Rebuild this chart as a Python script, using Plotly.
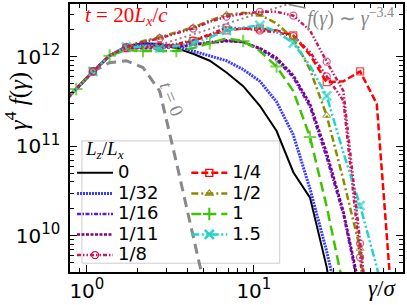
import plotly.graph_objects as go

# ---------------- data ----------------
gamma = [0.685, 0.863, 1.086, 1.368, 1.722, 2.168, 2.729, 3.436, 4.325, 5.445, 6.855,
         8.63, 10.86, 13.68, 17.22, 21.68, 27.29, 34.36, 43.25, 54.45, 68.55]

f_t0 = [2.77e11, 4.36e11, 6.86e11, 8.60e11, 9.04e11, 7.58e11, 4.14e11, 6.60e10, 1.0e10, 1.5e9]
f_0 = [2.77e11, 4.36e11, 6.86e11, 1.03e12, 1.32e12, 1.42e12, 1.39e12, 1.25e12, 1.08e12, 9.04e11,
       6.69e11, 4.70e11, 2.84e11, 1.48e11, 5.13e10, 2.67e10, 4.47e9, 3.0e8]
f_1_32 = [2.77e11, 4.36e11, 6.86e11, 1.03e12, 1.29e12, 1.39e12, 1.35e12, 1.32e12, 1.16e12, 1.03e12,
          9.04e11, 7.21e11, 5.33e11, 3.14e11, 1.34e11, 3.35e10, 6.69e9, 1.04e9]
f_1_16 = [2.77e11, 4.36e11, 6.86e11, 1.03e12, 1.25e12, 1.29e12, 1.29e12, 1.32e12, 1.39e12, 1.46e12,
          1.53e12, 1.46e12, 1.22e12, 9.27e11, 5.89e11, 2.77e11, 7.48e10, 1.74e10, 2.21e9]
f_1_11 = [2.77e11, 4.36e11, 6.86e11, 1.03e12, 1.25e12, 1.25e12, 1.25e12, 1.29e12, 1.35e12, 1.42e12,
          1.50e12, 1.46e12, 1.25e12, 9.75e11, 6.20e11, 2.99e11, 8.49e10, 1.88e10, 2.5e9]
f_1_8 = [2.77e11, 4.36e11, 6.86e11, 1.03e12, 1.25e12, 1.29e12, 1.32e12, 1.39e12, 1.53e12, 1.78e12,
         2.13e12, 2.07e12, 1.97e12, 1.88e12, 1.70e12, 1.13e12, 6.05e11, 3.22e11, 5.75e9, 1.07e8]
f_1_8b = [2.77e11, 4.36e11, 6.86e11, 1.03e12, 1.29e12, 1.46e12, 1.61e12, 1.83e12, 2.07e12, 2.47e12,
          2.81e12, 3.03e12, 3.18e12, 3.18e12, 2.88e12, 1.97e12, 8.82e11, 4.14e11, 8.18e9, 1.8e8]
f_1_4 = [2.77e11, 4.36e11, 6.86e11, 1.03e12, 1.25e12, 1.29e12, 1.29e12, 1.35e12, 1.50e12, 1.74e12,
         1.97e12, 2.07e12, 2.07e12, 1.97e12, 1.74e12, 1.05e12, 5.20e11, 5.33e11, 6.86e11, 2.99e11, 1.04e9]
f_1_2 = [2.77e11, 4.36e11, 6.86e11, 1.03e12, 1.29e12, 1.50e12, 1.65e12, 1.88e12, 2.13e12, 2.54e12,
         2.95e12, 3.10e12, 2.95e12, 2.35e12, 1.61e12, 7.21e11, 2.21e11, 4.2e10, 7.21e9, 1.8e8]
f_1 = [2.77e11, 4.36e11, 6.86e11, 1.03e12, 1.19e12, 1.16e12, 1.16e12, 1.16e12, 1.25e12, 1.42e12,
       1.61e12, 1.50e12, 1.16e12, 7.78e11, 4.14e11, 1.27e11, 2.13e10, 2.7e9]
f_1_5 = [2.77e11, 4.36e11, 6.86e11, 1.03e12, 1.29e12, 1.29e12, 1.25e12, 1.32e12, 1.42e12, 1.65e12,
         1.97e12, 2.13e12, 2.24e12, 1.92e12, 1.42e12, 7.97e11, 3.65e11, 8.49e10, 2.18e10, 4.47e9, 8.1e8]

# reference power law f ~ gamma^-3.4 (endpoints)
ref_x = [2.95, 17.3]
ref_y = [1.42e12, 4.07e12]

SUP = "<sup><span style='font-size:15px'>%s</span></sup>"
x_ticks = [1, 10]
x_ticktext = ["10" + SUP % "0", "10" + SUP % "1"]
y_ticks = [1e10, 1e11, 1e12]
y_ticktext = ["10" + SUP % "10", "10" + SUP % "11", "10" + SUP % "12"]
x_minor = [0.8, 0.9, 2, 3, 4, 5, 6, 7, 8, 9, 20, 30, 40, 50, 60, 70]
y_minor = [5e9, 6e9, 7e9, 8e9, 9e9, 2e10, 3e10, 4e10, 5e10, 6e10, 7e10, 8e10, 9e10,
           2e11, 3e11, 4e11, 5e11, 6e11, 7e11, 8e11, 9e11, 2e12, 3e12]

# ---------------- styles ----------------
series = [
    # label, data, color, width, dash, symbol, msize, mlw, parity, legend
    ("0", f_0, "black", 2, "solid", None, 0, 0, 0, "legend"),
    ("1/32", f_1_32, "#3b3bff", 3, "2px,1px", None, 0, 0, 0, "legend"),
    ("1/16", f_1_16, "#5a1fd6", 2.5, "4px,1.5px,1.5px,1.5px", None, 0, 0, 0, "legend"),
    ("1/11", f_1_11, "#800080", 2.5, "3px,1.5px", None, 0, 0, 0, "legend"),
    ("1/8", f_1_8, "#c8175d", 2.5, "4px,2px,1.5px,2px,1.5px,2px", "circle-open", 7, 1.3, 0, "legend"),
    ("1/4", f_1_4, "#ff0000", 2.5, "7px,3px", "square-open", 7, 1.3, 0, "legend2"),
    ("1/2", f_1_2, "#8a8a00", 2.5, "7px,3px,2px,3px", "triangle-up-open", 7, 1.1, 0, "legend2"),
    ("1", f_1, "#3ec300", 2.5, "10px,5px", "cross-thin-open", 9, 2, 1, "legend2"),
    ("1.5", f_1_5, "#22d3cc", 2.5, "8px,2.5px,2px,2.5px,2px,2.5px", "x-thin-open", 9, 2.5, 0, "legend2"),
]

fig = go.Figure()

# t = 0 curve
fig.add_trace(go.Scatter(x=gamma[:len(f_t0)], y=f_t0, mode="lines",
                         line=dict(color="#888888", width=3, dash="10px,6px"),
                         showlegend=False))
# power-law guide
fig.add_trace(go.Scatter(x=ref_x, y=ref_y, mode="lines",
                         line=dict(color="#888888", width=2, dash="2px,3px"),
                         showlegend=False))


def add_series(label, data, color, width, dash, symbol, msize, mlw, parity, legend, show_leg=True):
    xs = gamma[:len(data)]
    if symbol:
        sizes = [msize if (i % 2 == parity) else 0 for i in range(len(data))]
        fig.add_trace(go.Scatter(x=xs, y=data, mode="lines+markers",
                                 line=dict(color=color, width=width, dash=dash),
                                 marker=dict(symbol=symbol, size=sizes, color=color,
                                             line=dict(color=color, width=mlw)),
                                 showlegend=False))
    else:
        fig.add_trace(go.Scatter(x=xs, y=data, mode="lines",
                                 line=dict(color=color, width=width, dash=dash),
                                 showlegend=False))
    if show_leg:
        name = '<span style="font-size:18px">%s</span>' % label
        if symbol:
            fig.add_trace(go.Scatter(x=[None], y=[None], mode="lines+markers", name=name,
                                     line=dict(color=color, width=width, dash=dash),
                                     marker=dict(symbol=symbol, size=msize, color=color,
                                                 line=dict(color=color, width=mlw)),
                                     legend=legend))
        else:
            fig.add_trace(go.Scatter(x=[None], y=[None], mode="lines", name=name,
                                     line=dict(color=color, width=width, dash=dash),
                                     legend=legend))


for s in series:
    add_series(*s)
# second crimson run (unlabelled)
add_series("1/8", f_1_8b, "#c8175d", 2.5, "4px,2px,1.5px,2px,1.5px,2px", "circle-open", 7, 1.3, 0,
           "legend", show_leg=False)

L, R, T, B = 70, 2, 3, 28
W, H = 407, 305
pw, ph = W - L - R, H - T - B


def px2paper(px, py):
    return (px - L) / pw, (H - B - py) / ph


axis_common = dict(showline=True, linecolor="black", linewidth=1.5, mirror="allticks",
                   ticks="inside", ticklen=7, tickwidth=1.2, tickcolor="black",
                   showgrid=False, zeroline=False,
                   tickfont=dict(family="DejaVu Sans", size=20, color="black"))

fig.update_xaxes(type="log", range=[-0.1012, 1.893], tickvals=x_ticks, ticktext=x_ticktext,
                 minor=dict(tickvals=x_minor, ticks="inside", ticklen=4, tickwidth=1, tickcolor="black"),
                 **axis_common)
fig.update_yaxes(type="log", range=[9.5956, 12.590], tickvals=y_ticks, ticktext=y_ticktext,
                 ticklabelstandoff=4,
                 minor=dict(tickvals=y_minor, ticks="inside", ticklen=4, tickwidth=1, tickcolor="black"),
                 **axis_common)

lx1, ly1 = px2paper(72, 160)
lx2, ly2 = px2paper(187, 160)
leg_common = dict(bgcolor="rgba(0,0,0,0)", borderwidth=0, font=dict(family="DejaVu Sans", size=13.5, color="black"),
                  itemwidth=36, tracegroupgap=0, yanchor="top", xanchor="left", traceorder="normal")
fx0, fy0 = px2paper(82, 268)
fx1, fy1 = px2paper(281, 143)
fig.update_layout(
    width=W, height=H, margin=dict(l=L, r=R, t=T, b=B),
    plot_bgcolor="white", paper_bgcolor="white",
    legend=dict(x=lx1, y=ly1, **leg_common),
    legend2=dict(x=lx2, y=ly2, **leg_common),
    shapes=[dict(type="rect", xref="paper", yref="paper", x0=fx0, x1=fx1, y0=fy0, y1=fy1,
                 line=dict(color="#cccccc", width=1), fillcolor="rgba(255,255,255,0.6)", layer="below")],
)

serif = "Liberation Serif"
ann = []


def pann(px, py, text, size, color, angle=0):
    ax_, ay_ = px2paper(px, py)
    ann.append(dict(xref="paper", yref="paper", x=ax_, y=ay_, xanchor="center", yanchor="middle",
                    text=text, showarrow=False, textangle=angle,
                    font=dict(family=serif, size=size, color=color)))


pann(105, 152, "<i>L<sub>z</sub></i>/<i>L<sub>x</sub></i>", 19, "black")
pann(127, 15, "<i>t</i> = 20<i>L<sub>x</sub></i>/<i>c</i>", 21, "#ff0000")
pann(17, 102, "<i>γ</i><sup>4</sup> <i>f</i>(<i>γ</i>)", 25, "black", -90)
pann(384, 294, "<i>γ</i>/<i>σ</i>", 23, "black")
ann.append(dict(x=1.208, y=12.585, xref="x", yref="y",
                text="<i>f</i>(<i>γ</i>) ∼ <i>γ</i><sup>−3.4</sup>", showarrow=True, arrowhead=0,
                arrowcolor="#888888", arrowwidth=1.5, ax=62, ay=13,
                font=dict(family=serif, size=20, color="#888888")))
ann.append(dict(x=0.506, y=11.53, xref="x", yref="y", text="<i>t</i> = 0", textangle=68,
                xanchor="center", yanchor="middle",
                showarrow=False, font=dict(family=serif, size=19, color="#888888")))
fig.update_layout(annotations=ann)

fig.write_html("out.html", config={"displayModeBar": False},
               post_script="document.body.style.margin='0';")
